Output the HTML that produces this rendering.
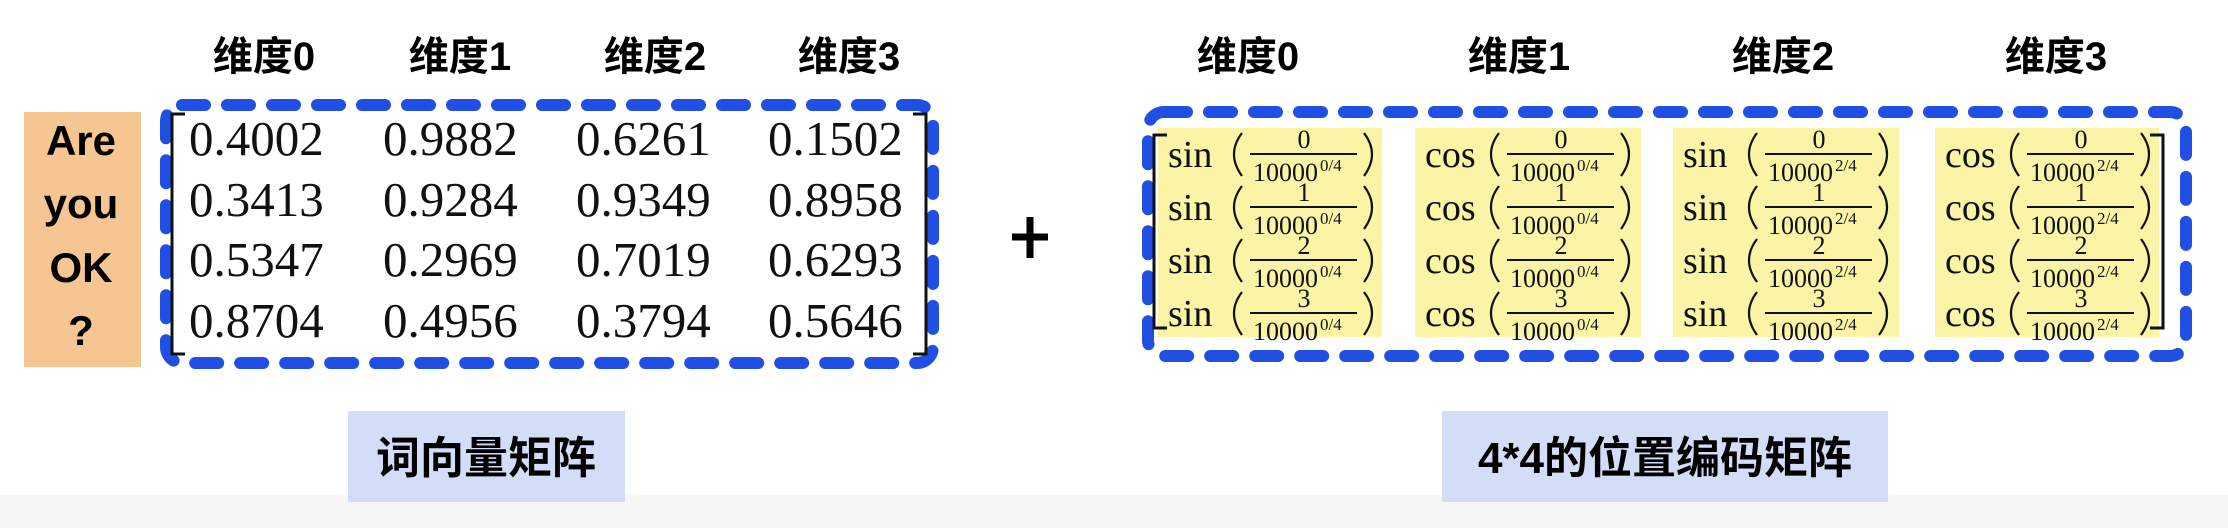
<!DOCTYPE html>
<html><head><meta charset="utf-8"><style>
html,body{margin:0;padding:0;background:#fff;}
body{width:2228px;height:528px;overflow:hidden;position:relative;}
svg{position:absolute;left:0;top:0;}
.h{font-family:"Liberation Sans","Noto Sans CJK SC",sans-serif;font-weight:bold;font-size:40px;fill:#000;}
.n{font-family:"Liberation Serif",serif;font-size:49px;fill:#111;}
.f{font-family:"Liberation Serif",serif;font-size:38px;fill:#111;}
.s{font-family:"Liberation Serif",serif;font-size:26px;fill:#111;}
.d{font-family:"Liberation Serif",serif;font-size:26px;fill:#111;}
.ss{font-family:"Liberation Serif",serif;font-size:17px;fill:#111;}
</style></head><body>
<svg width="2228" height="528" viewBox="0 0 2228 528">
<rect x="0" y="495" width="2228" height="33" fill="#f7f7f7"/>
<g class="h" text-anchor="middle">
<text x="264" y="70">维度0</text><text x="460" y="70">维度1</text><text x="655" y="70">维度2</text><text x="849" y="70">维度3</text>
<text x="1248" y="70">维度0</text><text x="1519" y="70">维度1</text><text x="1783" y="70">维度2</text><text x="2056" y="70">维度3</text>
</g>
<rect x="24" y="112" width="117" height="255" fill="#f5c592"/>
<g class="h" text-anchor="middle" style="font-size:42px">
<text x="81" y="155">Are</text><text x="81" y="218">you</text><text x="81" y="282">OK</text><text x="81" y="345">?</text>
</g>
<rect x="166" y="105" width="767" height="258" rx="16" fill="none" stroke="#1f4fe3" stroke-width="12" stroke-dasharray="23 22" stroke-linecap="round"/>
<path d="M185 114H172V354H185M913 114H926V354H913" fill="none" stroke="#111" stroke-width="3"/>
<g class="n">
<text x="189" y="155">0.4002</text><text x="383" y="155">0.9882</text><text x="576" y="155">0.6261</text><text x="768" y="155">0.1502</text>
<text x="189" y="216">0.3413</text><text x="383" y="216">0.9284</text><text x="576" y="216">0.9349</text><text x="768" y="216">0.8958</text>
<text x="189" y="276">0.5347</text><text x="383" y="276">0.2969</text><text x="576" y="276">0.7019</text><text x="768" y="276">0.6293</text>
<text x="189" y="337">0.8704</text><text x="383" y="337">0.4956</text><text x="576" y="337">0.3794</text><text x="768" y="337">0.5646</text>
</g>
<path d="M1012 237H1048M1030 217V258" stroke="#000" stroke-width="7"/>
<rect x="1148" y="112" width="1038" height="244" rx="16" fill="none" stroke="#1f4fe3" stroke-width="12" stroke-dasharray="23 22" stroke-linecap="round"/>
<g fill="#fbf3a6">
<rect x="1158" y="128" width="224" height="209"/><rect x="1415" y="128" width="226" height="209"/>
<rect x="1673" y="128" width="226" height="209"/><rect x="1935" y="128" width="224" height="209"/>
</g>
<path d="M1167 135H1154V328H1167M2150 135H2163V328H2150" fill="none" stroke="#111" stroke-width="3"/>
<rect x="348" y="411" width="277" height="91" fill="#d3ddf7"/>
<rect x="1442" y="411" width="446" height="91" fill="#d3ddf7"/>
<g class="h" text-anchor="middle" style="font-size:44px">
<text x="486" y="473">词向量矩阵</text><text x="1665" y="473">4*4的位置编码矩阵</text>
</g>
<g class="f">
<text x="1168" y="167">sin</text><text x="1168" y="220">sin</text><text x="1168" y="273">sin</text><text x="1168" y="326">sin</text>
<text x="1425" y="167">cos</text><text x="1425" y="220">cos</text><text x="1425" y="273">cos</text><text x="1425" y="326">cos</text>
<text x="1683" y="167">sin</text><text x="1683" y="220">sin</text><text x="1683" y="273">sin</text><text x="1683" y="326">sin</text>
<text x="1945" y="167">cos</text><text x="1945" y="220">cos</text><text x="1945" y="273">cos</text><text x="1945" y="326">cos</text>
</g>

<g transform="translate(1158,0)">
<path d="M84 133Q68 154 84 176M84 186Q68 207 84 229M84 239Q68 260 84 282M84 292Q68 313 84 335" fill="none" stroke="#111" stroke-width="2.2"/>
<path d="M206 133Q222 154 206 176M206 186Q222 207 206 229M206 239Q222 260 206 282M206 292Q222 313 206 335" fill="none" stroke="#111" stroke-width="2.2"/>
<path d="M92 154H199M92 207H199M92 260H199M92 313H199" stroke="#111" stroke-width="2"/>
<g class="s" text-anchor="middle"><text x="146" y="148">0</text><text x="146" y="201">1</text><text x="146" y="254">2</text><text x="146" y="307">3</text></g>
<g class="d"><text x="95" y="181">10000</text><text x="95" y="234">10000</text><text x="95" y="287">10000</text><text x="95" y="340">10000</text></g>
<g class="ss"><text x="162" y="171">0/4</text><text x="162" y="224">0/4</text><text x="162" y="277">0/4</text><text x="162" y="330">0/4</text></g>
</g>
<g transform="translate(1415,0)">
<path d="M84 133Q68 154 84 176M84 186Q68 207 84 229M84 239Q68 260 84 282M84 292Q68 313 84 335" fill="none" stroke="#111" stroke-width="2.2"/>
<path d="M206 133Q222 154 206 176M206 186Q222 207 206 229M206 239Q222 260 206 282M206 292Q222 313 206 335" fill="none" stroke="#111" stroke-width="2.2"/>
<path d="M92 154H199M92 207H199M92 260H199M92 313H199" stroke="#111" stroke-width="2"/>
<g class="s" text-anchor="middle"><text x="146" y="148">0</text><text x="146" y="201">1</text><text x="146" y="254">2</text><text x="146" y="307">3</text></g>
<g class="d"><text x="95" y="181">10000</text><text x="95" y="234">10000</text><text x="95" y="287">10000</text><text x="95" y="340">10000</text></g>
<g class="ss"><text x="162" y="171">0/4</text><text x="162" y="224">0/4</text><text x="162" y="277">0/4</text><text x="162" y="330">0/4</text></g>
</g>
<g transform="translate(1673,0)">
<path d="M84 133Q68 154 84 176M84 186Q68 207 84 229M84 239Q68 260 84 282M84 292Q68 313 84 335" fill="none" stroke="#111" stroke-width="2.2"/>
<path d="M206 133Q222 154 206 176M206 186Q222 207 206 229M206 239Q222 260 206 282M206 292Q222 313 206 335" fill="none" stroke="#111" stroke-width="2.2"/>
<path d="M92 154H199M92 207H199M92 260H199M92 313H199" stroke="#111" stroke-width="2"/>
<g class="s" text-anchor="middle"><text x="146" y="148">0</text><text x="146" y="201">1</text><text x="146" y="254">2</text><text x="146" y="307">3</text></g>
<g class="d"><text x="95" y="181">10000</text><text x="95" y="234">10000</text><text x="95" y="287">10000</text><text x="95" y="340">10000</text></g>
<g class="ss"><text x="162" y="171">2/4</text><text x="162" y="224">2/4</text><text x="162" y="277">2/4</text><text x="162" y="330">2/4</text></g>
</g>
<g transform="translate(1935,0)">
<path d="M84 133Q68 154 84 176M84 186Q68 207 84 229M84 239Q68 260 84 282M84 292Q68 313 84 335" fill="none" stroke="#111" stroke-width="2.2"/>
<path d="M206 133Q222 154 206 176M206 186Q222 207 206 229M206 239Q222 260 206 282M206 292Q222 313 206 335" fill="none" stroke="#111" stroke-width="2.2"/>
<path d="M92 154H199M92 207H199M92 260H199M92 313H199" stroke="#111" stroke-width="2"/>
<g class="s" text-anchor="middle"><text x="146" y="148">0</text><text x="146" y="201">1</text><text x="146" y="254">2</text><text x="146" y="307">3</text></g>
<g class="d"><text x="95" y="181">10000</text><text x="95" y="234">10000</text><text x="95" y="287">10000</text><text x="95" y="340">10000</text></g>
<g class="ss"><text x="162" y="171">2/4</text><text x="162" y="224">2/4</text><text x="162" y="277">2/4</text><text x="162" y="330">2/4</text></g>
</g>
</svg>
</body></html>
